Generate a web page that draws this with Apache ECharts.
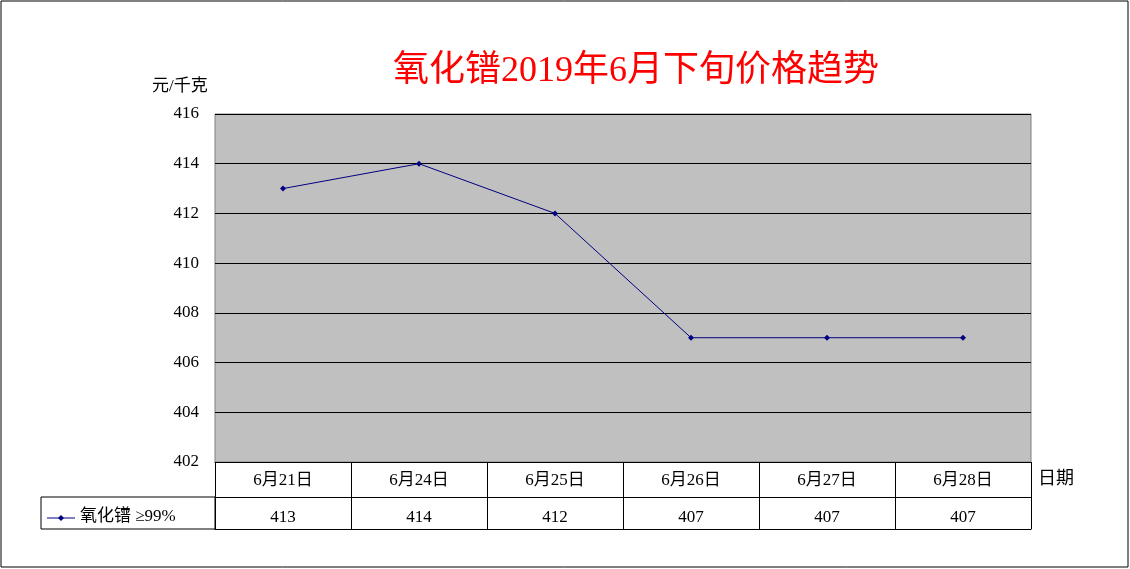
<!DOCTYPE html>
<html><head><meta charset="utf-8">
<script src="https://cdn.jsdelivr.net/npm/echarts@6/dist/echarts.min.js"></script>
<style>html,body{margin:0;padding:0;background:#fff}#main{width:1130px;height:569px}</style>
</head><body><div id="main"></div>
<script>
var dates = ['6月21日', '6月24日', '6月25日', '6月26日', '6月27日', '6月28日'];
var prices = [413, 414, 412, 407, 407, 407];
var seriesName = '氧化镨 ≥99%';
var yTicks = {min: 402, max: 416, interval: 2};

var FONT = '"Liberation Serif", "Noto Sans CJK SC", serif';
var chart = echarts.init(document.getElementById('main'));

chart.setOption({
	animation: false,
	backgroundColor: '#fff',
	textStyle: {fontFamily: FONT},
	title: {
		text: '氧化镨2019年6月下旬价格趋势',
		left: 631, top: 49, textAlign: 'center',
		textStyle: {color: '#ff0000', fontSize: 36, fontWeight: 'normal', fontFamily: FONT}
	},
	grid: {left: 215, right: 99, top: 114, bottom: 107, show: true,
		backgroundColor: '#c0c0c0', borderColor: '#808080', borderWidth: 1},
	xAxis: [
		{
			type: 'category', data: dates, position: 'bottom', boundaryGap: true,
			axisLine: {lineStyle: {color: '#000'}},
			axisTick: {show: true, inside: false, length: 67, lineStyle: {color: '#000'}},
			axisLabel: {color: '#000', fontSize: 17, margin: 10}
		},
		{
			type: 'category', data: prices.map(String), position: 'bottom', offset: 35,
			boundaryGap: true,
			axisLine: {show: true, lineStyle: {color: '#000'}},
			axisTick: {show: false},
			axisLabel: {color: '#000', fontSize: 17, margin: 12}
		},
		{
			type: 'category', data: dates, position: 'bottom', offset: 67,
			axisLine: {show: true, lineStyle: {color: '#000'}},
			axisTick: {show: false}, axisLabel: {show: false}
		}
	],
	yAxis: {
		type: 'value', min: yTicks.min, max: yTicks.max, interval: yTicks.interval,
		axisLine: {show: false}, axisTick: {show: false},
		axisLabel: {color: '#000', fontSize: 17, margin: 16},
		splitLine: {lineStyle: {color: '#000'}}
	},
	series: [{
		name: seriesName, type: 'line', data: prices,
		symbol: 'diamond', symbolSize: 6,
		lineStyle: {color: '#000080', width: 1},
		itemStyle: {color: '#000080'}
	}],
	graphic: [
		{type: 'rect', shape: {x: 1, y: 1, width: 1127, height: 566}, style: {fill: 'none', stroke: '#000', lineWidth: 1}},
		{type: 'rect', shape: {x: 41, y: 497, width: 174, height: 32}, style: {fill: 'none', stroke: '#000', lineWidth: 1}},
		{type: 'line', shape: {x1: 47, y1: 518, x2: 75, y2: 518}, style: {stroke: '#000080', lineWidth: 1}},
		{type: 'polygon', shape: {points: [[61, 515], [64, 518], [61, 521], [58, 518]]}, style: {fill: '#000080'}},
		{type: 'text', left: 80, top: 508, style: {text: seriesName, fill: '#000', font: '17px ' + FONT}},
		{type: 'text', left: 152, top: 78, style: {text: '元/千克', fill: '#000', font: '17px ' + FONT}},
		{type: 'text', left: 1038, top: 470, style: {text: '日期', fill: '#000', font: '18px ' + FONT}}
	]
});
</script></body></html>
